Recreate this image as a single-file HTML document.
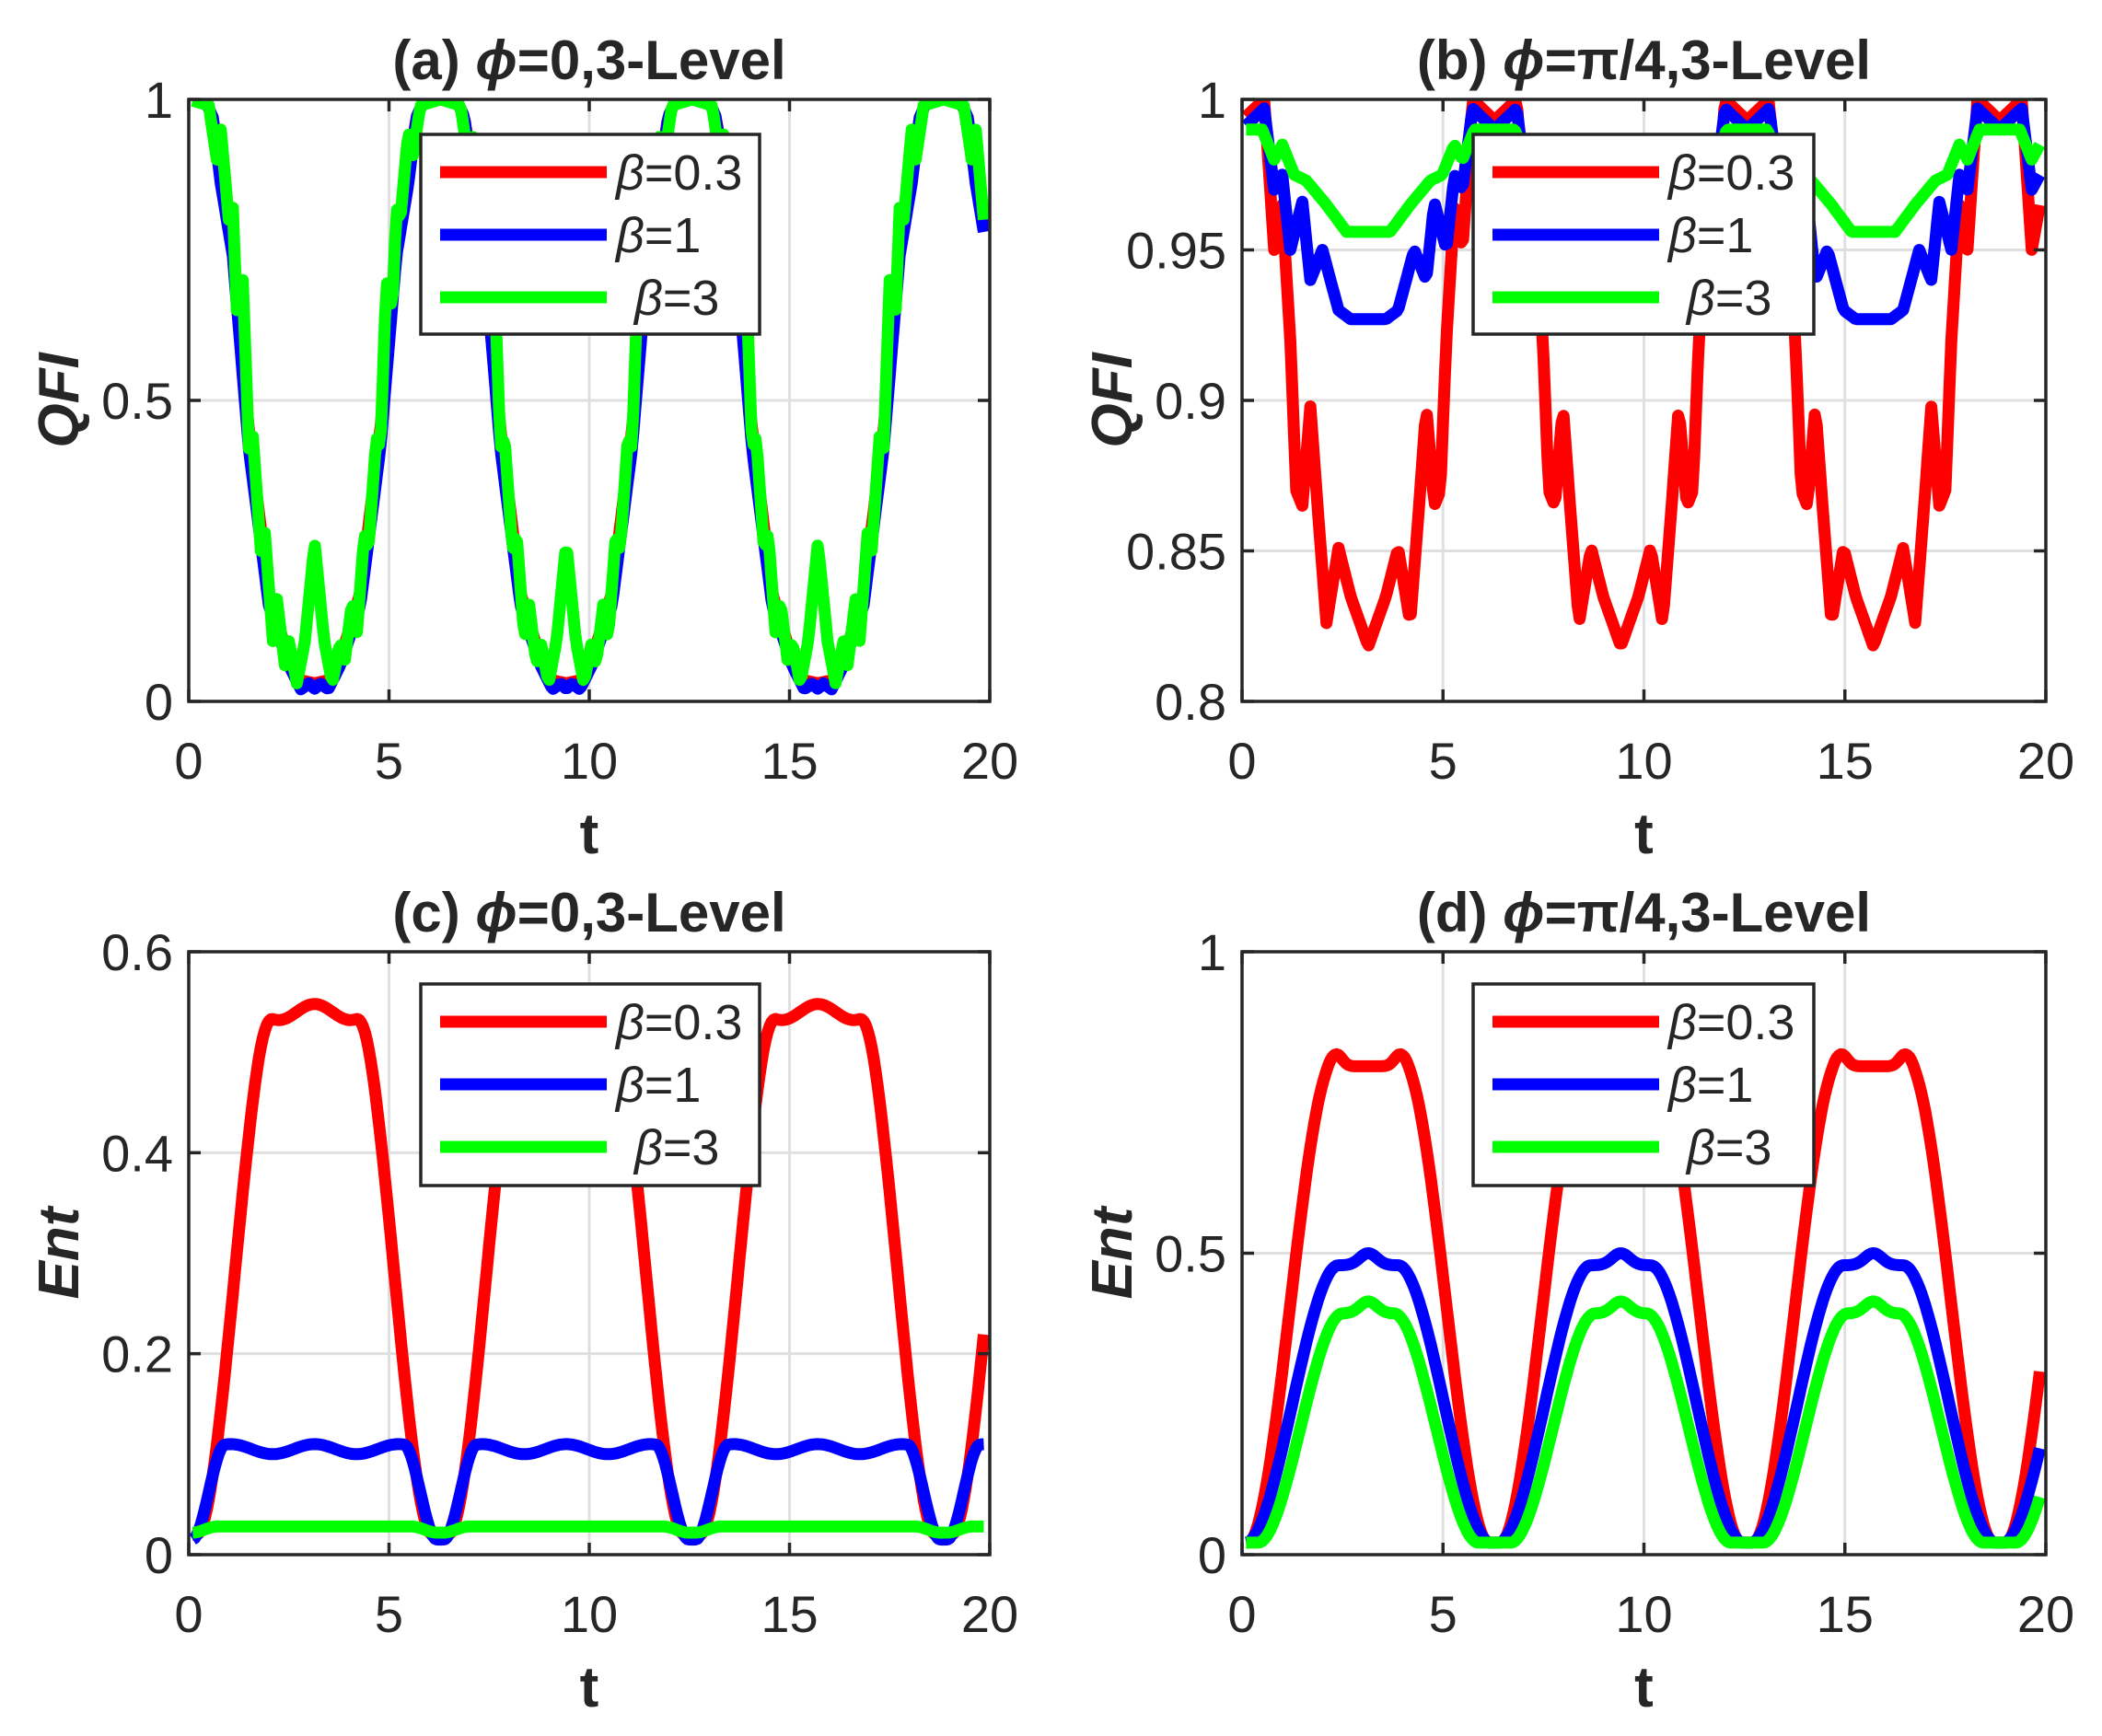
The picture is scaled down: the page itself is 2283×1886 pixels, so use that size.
<!DOCTYPE html>
<html><head><meta charset="utf-8">
<style>
html,body{margin:0;padding:0;background:#fff;}
svg{display:block;}
text{font-family:"Liberation Sans",sans-serif;fill:#262626;}
</style></head>
<body>
<svg id="s" width="2283" height="1886" xmlns="http://www.w3.org/2000/svg"></svg>
<script>
const S=document.getElementById('s');
let h='';
const P=[
 {L:205,R:1075,T:108,B:762,y0:0,y1:1,yt:[[0,'0'],[0.5,'0.5'],[1,'1']],title:'(a) ',t2:'=0,3-Level',yl:'QFI',lg:[457,146,825,363]},
 {L:1349,R:2222,T:108,B:762,y0:0.8,y1:1,yt:[[0.8,'0.8'],[0.85,'0.85'],[0.9,'0.9'],[0.95,'0.95'],[1,'1']],title:'(b) ',t2:'=π/4,3-Level',yl:'QFI',lg:[1600,146,1970,363]},
 {L:205,R:1075,T:1034,B:1689,y0:0,y1:0.6,yt:[[0,'0'],[0.2,'0.2'],[0.4,'0.4'],[0.6,'0.6']],title:'(c) ',t2:'=0,3-Level',yl:'Ent',lg:[457,1069,825,1288]},
 {L:1349,R:2222,T:1034,B:1689,y0:0,y1:1,yt:[[0,'0'],[0.5,'0.5'],[1,'1']],title:'(d) ',t2:'=π/4,3-Level',yl:'Ent',lg:[1600,1069,1970,1288]}
];
const TP=2*Math.PI;
function dist(t){let u=t%TP;return Math.min(u,TP-u);}
function interp(k,d){for(let i=1;i<k.length;i++){if(d<=k[i][0]){const a=k[i-1],b=k[i];return a[1]+(b[1]-a[1])*(d-a[0])/(b[0]-a[0]);}}return k[k.length-1][1];}
function ss(x){x=Math.max(0,Math.min(1,x));return x*x*(3-2*x);}
const K={
 aR:[[0,1],[0.4,1],[0.6,0.97],[0.8,0.88],[1.1,0.75],[1.5,0.45],[2,0.18],[2.5,0.07],[2.8,0.035],[3.15,0.03]],
 aB:[[0,1],[0.4,1],[0.6,0.97],[0.8,0.86],[1.1,0.74],[1.5,0.42],[2,0.16],[2.5,0.06],[2.8,0.02],[3.0,0.03],[3.15,0.02]],
 aG:[[0,1],[0.5,0.99],[0.7,0.9],[0.8,0.95],[1.0,0.8],[1.1,0.82],[1.2,0.65],[1.35,0.7],[1.5,0.42],[1.6,0.44],[1.8,0.25],[1.9,0.28],[2.1,0.1],[2.2,0.17],[2.4,0.06],[2.5,0.1],[2.7,0.03],[2.9,0.1],[3.15,0.27]],
 bR:[[0,0.993],[0.55,1.0],[0.8,0.95],[1.0,0.965],[1.2,0.92],[1.35,0.87],[1.5,0.865],[1.7,0.898],[1.85,0.87],[2.1,0.826],[2.4,0.851],[2.7,0.835],[3.15,0.818]],
 bB:[[0,0.99],[0.55,0.997],[0.8,0.97],[1.0,0.975],[1.2,0.95],[1.5,0.966],[1.7,0.94],[2.0,0.95],[2.4,0.93],[2.7,0.927],[3.15,0.927]],
 bG:[[0,0.99],[0.5,0.99],[0.8,0.98],[1.0,0.985],[1.3,0.975],[1.6,0.973],[2.1,0.965],[2.6,0.956],[3.15,0.956]]
};
const F=[
 [t=>interp(K.aR,dist(t)),t=>interp(K.aB,dist(t)),t=>interp(K.aG,dist(t))],
 [t=>interp(K.bR,dist(t)),t=>interp(K.bB,dist(t)),t=>interp(K.bG,dist(t))],
 [t=>{const d=dist(t);return 0.02+0.52*ss((d-0.2)/1.9)+0.008*Math.cos(3.5*(d-Math.PI))*ss((d-1.5)/0.6);},
  t=>{const d=dist(t);return 0.02+0.085*ss((d-0.1)/0.8)+0.005*Math.cos(3*(d-Math.PI));},
  t=>{const d=dist(t);return 0.022+0.006*ss((d-0.1)/0.6);}],
 [t=>{const d=dist(t);return 0.02+0.79*ss((d-0.15)/2.1)+0.02*Math.exp(-Math.pow((d-2.35)/0.2,2));},
  t=>{const d=dist(t);return 0.02+0.46*ss((d-0.1)/2.3)+0.02*Math.exp(-Math.pow((d-3.14)/0.3,2));},
  t=>{const d=dist(t);return 0.02+0.38*ss((d-0.4)/2.1)+0.02*Math.exp(-Math.pow((d-3.14)/0.3,2));}]
];
const COL=['#ff0000','#0000ff','#00ff00'];
P.forEach((p,i)=>{
 const X=t=>p.L+(p.R-p.L)*t/20, Y=v=>p.B-(p.B-p.T)*(v-p.y0)/(p.y1-p.y0);
 for(let t=5;t<20;t+=5)h+=`<line x1="${X(t)}" y1="${p.T}" x2="${X(t)}" y2="${p.B}" stroke="#dfdfdf" stroke-width="3"/>`;
 p.yt.forEach(([v])=>{if(v>p.y0&&v<p.y1)h+=`<line x1="${p.L}" y1="${Y(v)}" x2="${p.R}" y2="${Y(v)}" stroke="#dfdfdf" stroke-width="3"/>`;});
 h+=`<clipPath id="c${i}"><rect x="${p.L}" y="${p.T}" width="${p.R-p.L}" height="${p.B-p.T}"/></clipPath><g clip-path="url(#c${i})">`;
 F[i].forEach((f,j)=>{let pts=[];for(let t=0.1;t<=19.86;t+=0.05)pts.push(X(t).toFixed(1)+','+Y(f(t)).toFixed(1));
  h+=`<polyline points="${pts.join(' ')}" fill="none" stroke="${COL[j]}" stroke-width="13" stroke-linejoin="round"/>`;});
 h+='</g>';
 h+=`<rect x="${p.L}" y="${p.T}" width="${p.R-p.L}" height="${p.B-p.T}" fill="none" stroke="#262626" stroke-width="3.5"/>`;
 for(let t=0;t<=20;t+=5){h+=`<line x1="${X(t)}" y1="${p.B}" x2="${X(t)}" y2="${p.B-13}" stroke="#262626" stroke-width="3.5"/><line x1="${X(t)}" y1="${p.T}" x2="${X(t)}" y2="${p.T+13}" stroke="#262626" stroke-width="3.5"/>`;
  h+=`<text x="${X(t)}" y="${p.B+84}" font-size="56" text-anchor="middle">${t}</text>`;}
 p.yt.forEach(([v,l])=>{h+=`<line x1="${p.L}" y1="${Y(v)}" x2="${p.L+13}" y2="${Y(v)}" stroke="#262626" stroke-width="3.5"/><line x1="${p.R}" y1="${Y(v)}" x2="${p.R-13}" y2="${Y(v)}" stroke="#262626" stroke-width="3.5"/>`;
  h+=`<text x="${p.L-17}" y="${Y(v)+20}" font-size="56" text-anchor="end">${l}</text>`;});
 const cx=(p.L+p.R)/2;
 h+=`<text x="${cx}" y="${p.T-22}" font-size="60" font-weight="bold" text-anchor="middle">${p.title}<tspan font-style="italic">ϕ</tspan>${p.t2}</text>`;
 h+=`<text x="${cx}" y="${p.B+165}" font-size="62" font-weight="bold" text-anchor="middle">t</text>`;
 const my=(p.T+p.B)/2;
 h+=`<text transform="translate(${p.L-120},${my}) rotate(-90)" font-size="62" font-weight="bold" font-style="italic" text-anchor="middle">${p.yl}</text>`;
 const [lx,ly,rx,ry]=p.lg;
 h+=`<rect x="${lx}" y="${ly}" width="${rx-lx}" height="${ry-ly}" fill="#fff" stroke="#262626" stroke-width="3.5"/>`;
 const labs=['=0.3','=1','=3'];
 for(let j=0;j<3;j++){const yy=ly+41+j*68;
  h+=`<line x1="${lx+21}" y1="${yy}" x2="${lx+202}" y2="${yy}" stroke="${COL[j]}" stroke-width="13"/>`;
  h+=`<text x="${lx+(j==2?232:212)}" y="${yy+19}" font-size="54" fill="#000"><tspan font-style="italic">β</tspan>${labs[j]}</text>`;}
});
S.innerHTML=h;
</script>
</body></html>
